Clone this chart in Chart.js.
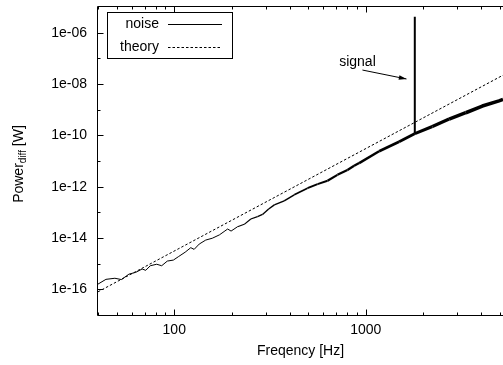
<!DOCTYPE html>
<html>
<head>
<meta charset="utf-8">
<script src="https://cdn.jsdelivr.net/npm/chart.js@4.4.1/dist/chart.umd.min.js"></script>
<style>
  html, body { margin: 0; padding: 0; background: #fff; }
  #wrap { width: 503px; height: 365px; }
</style>
</head>
<body>
<div id="wrap"><canvas id="psd"></canvas></div>
<script>
// measured differential power spectrum (Hz / W), carrier spike at 1.8 kHz
const noiseFreq = [40, 44, 49, 53, 58, 63, 68, 71, 75, 81,
    86, 92, 99, 105, 114, 122, 127, 135, 146, 158,
    172, 182, 190, 198, 214, 232, 251, 272, 289, 311,
    333, 375, 423, 496, 560, 631, 711, 802, 869, 923,
    1173, 1492, 1797, 1800, 1803, 2225, 2721, 3324, 4057, 4957,
    5200];
const noisePower = [1.6e-16, 2.45e-16, 2.7e-16, 2.4e-16, 3.9e-16, 4.6e-16, 6.2e-16, 5.5e-16, 8.3e-16, 9.5e-16,
    8.3e-16, 1.26e-15, 1.38e-15, 1.86e-15, 2.8e-15, 4.2e-15, 3.6e-15, 5.8e-15, 8.3e-15, 9.8e-15,
    1.32e-14, 1.78e-14, 2.24e-14, 1.86e-14, 2.75e-14, 3.4e-14, 5.5e-14, 6.8e-14, 8.3e-14, 1.35e-13,
    1.95e-13, 2.8e-13, 4.8e-13, 8.7e-13, 1.26e-12, 1.7e-12, 2.9e-12, 4.5e-12, 6.5e-12, 8.3e-12,
    2.4e-11, 5.6e-11, 1.15e-10, 4.2e-6, 1.17e-10, 2.2e-10, 4.3e-10, 7.6e-10, 1.38e-9, 2.2e-9,
    2.5e-9];

// theoretical f^4 law, straight on log-log so the end points are enough
const theoryFreq = [40, 5200];
const theoryPower = [8e-17, 2.2e-8];

const xTicks = [100, 1000];
const xTickLabels = ["100", "1000"];
const yTicks = [1e-16, 1e-14, 1e-12, 1e-10, 1e-8, 1e-6];
const yTickLabels = ["1e-16", "1e-14", "1e-12", "1e-10", "1e-08", "1e-06"];

const FONT = "'Liberation Sans', Arial, sans-serif";

const signalNote = { text: "signal", at: [726, 5e-8], from: [960, 3.5e-8], to: [1630, 1.57e-8] };

const toPoints = (xs, ys) => xs.map((x, i) => ({ x, y: ys[i] }));

// band gets thicker where the spectrum is sampled densely
const bandWidth = (f) => {
    const t = Math.min(1, Math.max(0, (Math.log10(f) - 2.3) / 1.2));
    return 1 + 2.6 * t;
};

// gnuplot-like frame with inward ticks, legend box, y title and arrow
const decor = {
    id: "decor",
    afterDraw(chart) {
        const { ctx, chartArea: a, scales: { x, y } } = chart;
        ctx.save();
        ctx.strokeStyle = "#000";
        ctx.fillStyle = "#000";
        ctx.lineWidth = 1;

        const L = a.left - 0.5, T = a.top - 0.5, B = a.bottom + 0.5;
        ctx.beginPath();
        ctx.moveTo(a.right + 2, T); ctx.lineTo(L, T); ctx.lineTo(L, B); ctx.lineTo(a.right + 2, B);
        ctx.stroke();

        // x ticks, bottom and top
        ctx.beginPath();
        for (const d of [10, 100, 1000]) {
            for (let k = 1; k <= 9; k++) {
                const v = d * k;
                if (v < x.min || v > x.max) continue;
                const len = k === 1 ? 6 : 3;
                const px = Math.round(x.getPixelForValue(v)) + 0.5;
                ctx.moveTo(px, B); ctx.lineTo(px, B - len);
                ctx.moveTo(px, T); ctx.lineTo(px, T + len);
            }
        }
        // y ticks every decade, labelled ones longer
        for (let e = -16; e <= -6; e++) {
            const v = Math.pow(10, e);
            const len = e % 2 === 0 ? 6 : 3;
            const py = Math.round(y.getPixelForValue(v)) + 0.5;
            ctx.moveTo(L, py); ctx.lineTo(L + len, py);
        }
        ctx.stroke();

        // legend
        ctx.fillStyle = "#fff";
        ctx.fillRect(107.5, 12.5, 125, 46);
        ctx.fillStyle = "#000";
        ctx.strokeRect(107.5, 12.5, 125, 46);
        ctx.font = "14px " + FONT;
        ctx.textAlign = "right";
        ctx.textBaseline = "middle";
        ctx.fillText("noise", 159, 24);
        ctx.fillText("theory", 159, 47);
        ctx.beginPath();
        ctx.moveTo(168, 24.5); ctx.lineTo(222, 24.5);
        ctx.stroke();
        ctx.setLineDash([2.5, 2]);
        ctx.beginPath();
        ctx.moveTo(168, 47.5); ctx.lineTo(222, 47.5);
        ctx.stroke();
        ctx.setLineDash([]);

        // signal label and arrow
        const sx = x.getPixelForValue(signalNote.at[0]);
        const sy = y.getPixelForValue(signalNote.at[1]);
        ctx.textAlign = "left";
        ctx.textBaseline = "alphabetic";
        ctx.fillText(signalNote.text, sx, sy);
        const x0 = x.getPixelForValue(signalNote.from[0]), y0 = y.getPixelForValue(signalNote.from[1]);
        const x1 = x.getPixelForValue(signalNote.to[0]), y1 = y.getPixelForValue(signalNote.to[1]);
        const ang = Math.atan2(y1 - y0, x1 - x0);
        ctx.beginPath();
        ctx.moveTo(x0, y0); ctx.lineTo(x1, y1);
        ctx.stroke();
        ctx.beginPath();
        ctx.moveTo(x1, y1);
        ctx.lineTo(x1 - 8 * Math.cos(ang - 0.3), y1 - 8 * Math.sin(ang - 0.3));
        ctx.lineTo(x1 - 8 * Math.cos(ang + 0.3), y1 - 8 * Math.sin(ang + 0.3));
        ctx.closePath();
        ctx.fill();

        // y title with subscript
        const big = "14px " + FONT, small = "10px " + FONT;
        ctx.font = big;
        const w1 = ctx.measureText("Power").width;
        const w3 = ctx.measureText(" [W]").width;
        ctx.font = small;
        const w2 = ctx.measureText("diff").width;
        ctx.translate(22.5, 164);
        ctx.rotate(-Math.PI / 2);
        let cx = -(w1 + w2 + w3) / 2;
        ctx.font = big;
        ctx.fillText("Power", cx, 0); cx += w1;
        ctx.font = small;
        ctx.fillText("diff", cx, 3); cx += w2;
        ctx.font = big;
        ctx.fillText(" [W]", cx, 0);
        ctx.restore();
    }
};

new Chart(document.getElementById("psd"), {
    type: "line",
    data: {
        datasets: [
            {
                label: "noise",
                data: toPoints(noiseFreq, noisePower),
                borderColor: "#000",
                borderWidth: 1,
                borderJoinStyle: "bevel",
                pointRadius: 0,
                tension: 0,
                segment: {
                    borderWidth: (c) => {
                        const f0 = c.p0.parsed.x, f1 = c.p1.parsed.x;
                        return Math.abs(f1 - f0) / f0 < 0.01 ? 2 : bandWidth(f0);
                    }
                }
            },
            {
                label: "theory",
                data: toPoints(theoryFreq, theoryPower),
                borderColor: "#000",
                borderWidth: 1,
                borderDash: [2.5, 2],
                pointRadius: 0,
                tension: 0
            }
        ]
    },
    options: {
        responsive: true,
        maintainAspectRatio: false,
        animation: false,
        layout: { padding: { top: 7, right: 0, left: 0, bottom: 0 } },
        plugins: {
            legend: { display: false },
            tooltip: { enabled: false }
        },
        scales: {
            x: {
                type: "logarithmic",
                min: 40,
                max: 5200,
                grid: { display: false, drawTicks: false },
                border: { display: false },
                afterBuildTicks: (s) => { s.ticks = xTicks.map(v => ({ value: v })); },
                afterFit: (s) => { s.height = 50; s.paddingLeft = 0; s.paddingRight = 0; },
                ticks: {
                    color: "#000",
                    font: { family: FONT, size: 14 },
                    padding: 7,
                    maxRotation: 0,
                    autoSkip: false,
                    callback: (v, i) => xTickLabels[i]
                },
                title: {
                    display: true,
                    text: "Freqency [Hz]",
                    color: "#000",
                    font: { family: FONT, size: 14 },
                    padding: { top: 4, bottom: 5 }
                }
            },
            y: {
                type: "logarithmic",
                min: 1e-17,
                max: 1e-5,
                grid: { display: false, drawTicks: false },
                border: { display: false },
                afterBuildTicks: (s) => { s.ticks = yTicks.map(v => ({ value: v })); },
                afterFit: (s) => { s.width = 98; s.paddingTop = 0; s.paddingBottom = 0; },
                ticks: {
                    color: "#000",
                    font: { family: FONT, size: 14 },
                    padding: 11,
                    autoSkip: false,
                    callback: (v, i) => yTickLabels[i]
                }
            }
        }
    },
    plugins: [decor]
});
</script>
</body>
</html>
